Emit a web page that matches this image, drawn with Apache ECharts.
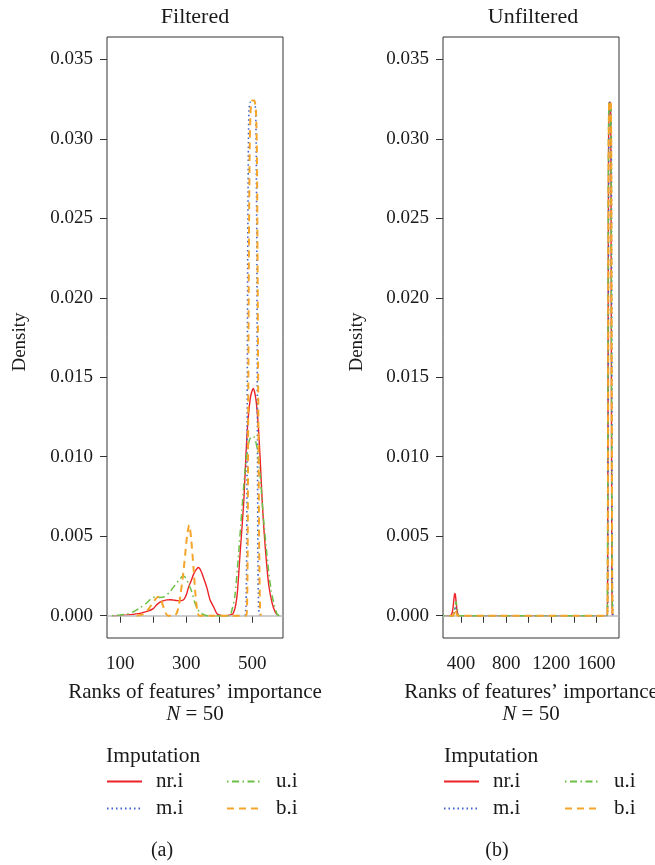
<!DOCTYPE html>
<html><head><meta charset="utf-8">
<script src="https://cdn.jsdelivr.net/npm/echarts@6/dist/echarts.min.js"></script>
<style>html,body{margin:0;padding:0;background:#fff}#c{width:655px;height:865px}</style>
</head><body><div id="c"></div>
<script>
const FONT = '"Liberation Serif", "DejaVu Serif", serif';
const TXT = '#1a1a1a';
const seriesNames = ['nr.i', 'm.i', 'u.i', 'b.i'];
const colors = ['#ec2227', '#3f62cc', '#6cbf45', '#f5a52a'];

// Filtered panel (a)
const fNrX = [78, 100, 130, 160, 181, 200, 211, 225, 241, 252, 262, 272, 282, 292, 300, 307, 315, 322, 330, 337, 345, 352, 362, 372, 383, 393, 405, 420, 440, 445, 450, 455, 463, 474, 481, 487, 495, 503, 511, 518, 524, 530, 536, 542, 550, 560, 570, 578];
const fNrY = [0, 0.00002, 0.00007, 0.00015, 0.00027, 0.00045, 0.0007, 0.0009, 0.001, 0.00101, 0.00098, 0.00095, 0.00094, 0.001, 0.0013, 0.0018, 0.0022, 0.0026, 0.0029, 0.00303, 0.0028, 0.0024, 0.0018, 0.001, 0.00055, 0.00013, 0.00002, 0, 0.0001, 0.0003, 0.0007, 0.0015, 0.0039, 0.0071, 0.0102, 0.0123, 0.0138, 0.0143, 0.0136, 0.012, 0.0098, 0.0072, 0.0052, 0.0036, 0.0019, 0.0008, 0.0002, 0];
const fMiX = [478, 481, 483, 484.5, 486, 488, 490, 494, 500, 506, 510, 512, 514, 515.5, 517, 519, 522];
const fMiY = [0, 0.0005, 0.004, 0.012, 0.022, 0.029, 0.0318, 0.0323, 0.0323, 0.0323, 0.0318, 0.029, 0.022, 0.012, 0.004, 0.0005, 0];
const fUiX = [75, 100, 120, 140, 160, 180, 195, 208, 220, 235, 250, 265, 280, 290, 298, 307, 317, 325, 332, 342, 355, 365, 430, 440, 447, 457, 468, 481, 492, 503, 515, 525, 534, 542, 549, 557, 565, 575, 582];
const fUiY = [0, 0.00005, 0.0001, 0.00025, 0.0005, 0.0008, 0.0011, 0.0012, 0.00115, 0.0012, 0.0015, 0.0019, 0.0023, 0.0025, 0.0024, 0.002, 0.0015, 0.0009, 0.0005, 0.0002, 0.00005, 0, 0, 0.0005, 0.0012, 0.0035, 0.0065, 0.0098, 0.0111, 0.0113, 0.0105, 0.0085, 0.0061, 0.0043, 0.0029, 0.0016, 0.0008, 0.0001, 0];
const fBiX = [150, 170, 185, 195, 205, 215, 222, 230, 237, 245, 265, 275, 283, 290, 297, 303, 309, 315, 322, 328, 333, 340, 481, 484, 486, 487.5, 489.5, 492, 495, 500, 506, 511, 514, 516, 518.5, 521, 523.5, 526];
const fBiY = [0, 0.0001, 0.0004, 0.0007, 0.001, 0.0012, 0.0011, 0.0006, 0.0002, 0, 0, 0.0004, 0.0014, 0.0025, 0.0039, 0.0051, 0.0057, 0.0048, 0.003, 0.0013, 0.0004, 0, 0, 0.0005, 0.004, 0.012, 0.022, 0.029, 0.0318, 0.0324, 0.0324, 0.0318, 0.029, 0.022, 0.012, 0.004, 0.0005, 0];

// Unfiltered panel (b)
const uNrX = [260, 300, 318, 328, 337, 345, 351, 358, 366, 375, 385, 1694, 1698, 1702, 1706, 1710, 1717, 1724, 1728, 1732, 1736, 1740];
const uNrY = [0, 0, 0.0001, 0.0004, 0.001, 0.0014, 0.0013, 0.0008, 0.0003, 0.00005, 0, 0, 0.002, 0.014, 0.028, 0.0322, 0.0323, 0.0322, 0.028, 0.014, 0.002, 0];
const uMiX = [310, 332, 342, 350, 358, 366, 375, 1696, 1700, 1704, 1708, 1712, 1720, 1728, 1732, 1736, 1740, 1746];
const uMiY = [0, 0, 0.0003, 0.0006, 0.0003, 0.0001, 0, 0, 0.002, 0.014, 0.028, 0.0322, 0.0323, 0.0322, 0.028, 0.014, 0.002, 0];
const uUiX = [250, 300, 325, 338, 348, 356, 362, 370, 378, 388, 1693, 1697, 1701, 1705, 1709, 1717, 1725, 1729, 1733, 1737, 1741];
const uUiY = [0, 0, 0, 0.0002, 0.0006, 0.0009, 0.0007, 0.0003, 0.00005, 0, 0, 0.002, 0.014, 0.028, 0.0322, 0.0323, 0.0322, 0.028, 0.014, 0.002, 0];
const uBiX = [300, 330, 340, 348, 355, 363, 372, 1695, 1699, 1703, 1707, 1711, 1719, 1727, 1731, 1735, 1739, 1743];
const uBiY = [0, 0, 0.0002, 0.0004, 0.0003, 0.0001, 0, 0, 0.002, 0.014, 0.028, 0.0322, 0.0324, 0.0322, 0.028, 0.014, 0.002, 0];

// Axis ticks and labels
const yTicks = [0, 0.005, 0.01, 0.015, 0.02, 0.025, 0.03, 0.035];
const fXTicks = [100, 200, 300, 400, 500];
const fXLabels = [100, 300, 500];
const uXTicks = [400, 600, 800, 1000, 1200, 1400, 1600];
const uXLabels = [400, 800, 1200, 1600];

const zip = (xs, ys) => xs.map((x, i) => [x, ys[i]]);
const panels = [
  [[fNrX, fNrY], [fMiX, fMiY], [fUiX, fUiY], [fBiX, fBiY]],
  [[uNrX, uNrY], [uMiX, uMiY], [uUiX, uUiY], [uBiX, uBiY]]
];
const lineTypes = ['solid', [1.5, 3], [1.5, 3.5, 7, 3.5], [7, 5]];
const lineWidths = [1.4, 1.6, 1.5, 2];

const grids = [
  {left: 107, top: 37, width: 176, height: 601},
  {left: 443, top: 37, width: 176, height: 601}
];
grids.forEach(g => { g.show = true; g.borderColor = '#333'; g.borderWidth = 1; g.backgroundColor = 'transparent'; });

function xAxis(i, min, max, ticks, labels) {
  return {
    type: 'value', gridIndex: i, min: min, max: max,
    axisLine: {show: false},
    axisTick: {show: true, inside: false, length: 7, customValues: ticks, lineStyle: {color: '#333', width: 1}},
    axisLabel: {customValues: labels, margin: 17, fontSize: 19, fontFamily: FONT, color: TXT, formatter: v => String(v)},
    splitLine: {show: false}
  };
}
function yAxis(i) {
  return {
    type: 'value', gridIndex: i, min: -0.0014, max: 0.0364,
    axisLine: {show: false},
    axisTick: {show: true, inside: false, length: 7, customValues: yTicks, lineStyle: {color: '#333', width: 1}},
    axisLabel: {customValues: yTicks, margin: 14, fontSize: 19, fontFamily: FONT, color: TXT, formatter: v => v.toFixed(3)},
    splitLine: {show: false}
  };
}

const series = [];
panels.forEach((p, pi) => {
  p.forEach((d, si) => {
    const s = {
      name: seriesNames[si], type: 'line', xAxisIndex: pi, yAxisIndex: pi,
      data: zip(d[0], d[1]), symbol: 'none', smooth: 0.25, animation: false,
      lineStyle: {color: colors[si], width: lineWidths[si], type: lineTypes[si]},
      itemStyle: {color: colors[si]}, z: 3 + si
    };
    if (si === 0) {
      s.markLine = {silent: true, symbol: 'none', animation: false, label: {show: false},
        lineStyle: {color: '#bdbdbd', type: 'solid', width: 1.5}, data: [{yAxis: 0}]};
    }
    series.push(s);
  });
});

function legendItem(name, left, top) {
  return {data: [name], left: left, top: top, padding: 0, itemWidth: 35, itemHeight: 14, selectedMode: false,
    itemStyle: {opacity: 0},
    textStyle: {fontSize: 21, fontFamily: FONT, color: TXT, padding: [0, 0, 0, 9]}};
}
const legends = [
  legendItem('nr.i', 106, 771), legendItem('u.i', 226, 771), legendItem('m.i', 106, 798), legendItem('b.i', 226, 798),
  legendItem('nr.i', 443, 771), legendItem('u.i', 564, 771), legendItem('m.i', 443, 798), legendItem('b.i', 564, 798)
];

function txt(text, x, y, opts) {
  opts = opts || {};
  return {type: 'text', x: x, y: y, rotation: opts.rotation || 0, silent: true,
    style: Object.assign({text: text, fill: TXT, font: (opts.size || 21) + 'px ' + FONT,
      align: opts.align || 'center', verticalAlign: 'middle'}, opts.style || {})};
}
const richN = {rich: {i: {fontStyle: 'italic', fontSize: 21, fontFamily: FONT, fill: TXT}}};
const graphics = [
  txt('Filtered', 195, 17, {size: 22}), txt('Unfiltered', 533, 17, {size: 22}),
  txt('Density', 20, 342, {rotation: Math.PI / 2, size: 19}), txt('Density', 357, 342, {rotation: Math.PI / 2, size: 19}),
  txt('Ranks of features’ importance', 195, 692), txt('Ranks of features’ importance', 531, 692),
  txt('{i|N} = 50', 195, 714, {style: richN}), txt('{i|N} = 50', 531, 714, {style: richN}),
  txt('Imputation', 106, 756, {align: 'left', size: 21.5}), txt('Imputation', 444, 756, {align: 'left', size: 21.5}),
  txt('(a)', 162, 851, {size: 20}), txt('(b)', 497, 851, {size: 20})
];

const chart = echarts.init(document.getElementById('c'), null, {renderer: 'canvas'});
chart.setOption({
  animation: false,
  backgroundColor: '#fff',
  grid: grids,
  xAxis: [xAxis(0, 60, 593, fXTicks, fXLabels), xAxis(1, 241, 1799, uXTicks, uXLabels)],
  yAxis: [yAxis(0), yAxis(1)],
  legend: legends,
  series: series,
  graphic: graphics
});
</script></body></html>
